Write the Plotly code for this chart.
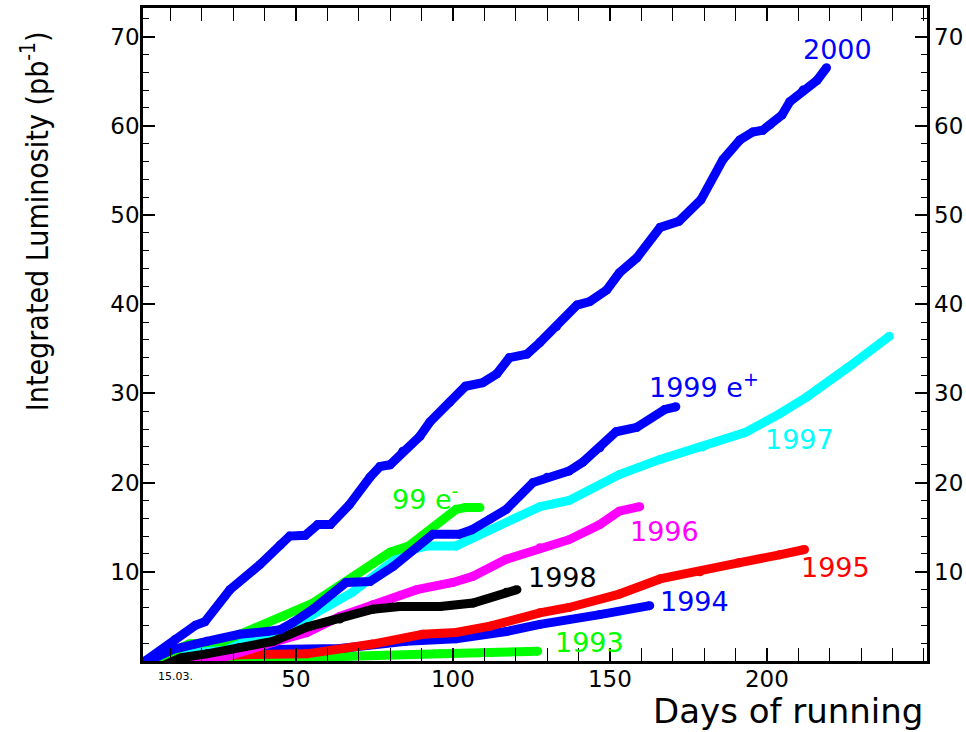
import plotly.graph_objects as go

# ---- data (days of running, integrated luminosity pb^-1) ----
x2000 = [2, 11.5, 18, 21, 29, 38.5, 45, 48, 53, 57, 61, 67, 73.6, 76.8, 80, 84, 89.5, 92.7, 99, 104, 109.5, 114,
         118, 123.6, 127.7, 133, 139.5, 143.6, 149, 153, 158.6, 166, 172, 179, 186, 191.4, 195.5, 198.7, 201,
         204.8, 207.3, 211.5, 216, 219]
y2000 = [0, 2.4, 4.0, 4.4, 8.0, 10.8, 13.0, 14.0, 14.1, 15.3, 15.3, 17.5, 20.6, 21.8, 22.0, 23.5, 25.2, 26.8, 29.0,
         30.8, 31.2, 32.2, 34.0, 34.4, 35.7, 37.5, 39.9, 40.3, 41.6, 43.5, 45.2, 48.6, 49.3, 51.7, 56.2, 58.4,
         59.3, 59.5, 60.1, 61.2, 62.7, 64.0, 65.1, 66.5]

x1999p = [3, 10.8, 21.6, 32, 40.8, 45, 49, 55.4, 66, 73.6, 81, 93.6, 102, 106, 111.8, 117, 125.5, 130, 137, 141.4,
          146.8, 152, 158.6, 167.5, 171]
y1999p = [0, 1.3, 2.2, 3.0, 3.3, 3.5, 4.3, 5.8, 8.8, 8.9, 10.6, 14.2, 14.2, 14.7, 15.9, 17.0, 20.0, 20.6, 21.3, 22.3,
          23.9, 25.7, 26.2, 28.2, 28.5]

x1999m = [4, 10, 16, 27, 32, 46, 55.4, 68, 80, 86, 101, 104, 108.6]
y1999m = [0, 1.0, 1.9, 2.2, 3.0, 5.0, 6.5, 9.4, 12.2, 12.9, 17.0, 17.2, 17.2]

x1997 = [5, 20, 35, 48, 55.4, 68, 85, 91.7, 101, 111.8, 127.7, 137, 153, 166, 179.6, 193, 204, 212.7, 225.8, 239]
y1997 = [0, 1.2, 2.5, 3.5, 5.2, 7.7, 12.3, 12.9, 12.9, 14.7, 17.3, 18.0, 20.9, 22.6, 24.0, 25.6, 27.7, 29.6, 32.9, 36.4]

x1996 = [15, 25, 42.7, 53.5, 64, 74.5, 88.5, 100, 106.4, 117, 127.7, 137, 146.8, 153, 159.5]
y1996 = [0, 0.2, 2.1, 3.2, 5.0, 6.3, 8.0, 8.8, 9.5, 11.4, 12.7, 13.6, 15.3, 16.8, 17.3]

x1998 = [2, 10, 21.6, 32, 42.7, 53.5, 64, 74.5, 83, 96, 106.4, 117, 120.4]
y1998 = [0, 0.2, 0.8, 1.5, 2.2, 3.8, 4.7, 5.8, 6.1, 6.1, 6.5, 7.7, 8.0]

x1995 = [10, 16, 32, 53.5, 74.5, 90.4, 101, 111.8, 127.7, 137, 153, 166, 178.7, 191, 204, 212]
y1995 = [0, 0.2, 0.7, 0.8, 1.9, 3.0, 3.2, 3.9, 5.4, 6.0, 7.5, 9.2, 10.0, 11.0, 11.9, 12.5]

x1994 = [10, 21.6, 42.7, 64, 85, 101, 117, 127.7, 146.8, 162.7]
y1994 = [0, 0.3, 1.3, 1.4, 2.2, 2.5, 3.3, 4.1, 5.2, 6.2]

x1993 = [20, 40, 64, 96, 127]
y1993 = [0, 0.3, 0.5, 0.8, 1.1]

series = [
    ("1993", x1993, y1993, "#00ff00"),
    ("1994", x1994, y1994, "#0000ff"),
    ("1995", x1995, y1995, "#ff0000"),
    ("1996", x1996, y1996, "#ff00ff"),
    ("1997", x1997, y1997, "#00ffff"),
    ("1998", x1998, y1998, "#000000"),
    ("99 e-", x1999m, y1999m, "#00ff00"),
    ("1999 e+", x1999p, y1999p, "#0000ff"),
    ("2000", x2000, y2000, "#0000ff"),
]

# labels: text, x, y, colour
labels = [
    ("2000", 222.6, 68.5, "#0000ff"),
    ("1999 e<sup>+</sup>", 180, 30.9, "#0000ff"),
    ("1997", 210.5, 24.8, "#00ffff"),
    ("1996", 167.5, 14.5, "#ff00ff"),
    ("1995", 221.7, 10.5, "#ff0000"),
    ("1994", 177, 6.7, "#0000ff"),
    ("1993", 143.6, 2.1, "#00ff00"),
    ("1998", 135, 9.4, "#000000"),
    ("99 e<sup>-</sup>", 91, 18.3, "#00ff00"),
]

x_ticks = [50, 100, 150, 200]
y_ticks = [10, 20, 30, 40, 50, 60, 70]
x_range = [1.3, 251]
y_range = [0, 73.2]

FONT = "DejaVu Sans, Liberation Sans, Arial, sans-serif"
NARROW = "DejaVu Sans Condensed, Liberation Sans Narrow, Arial Narrow, sans-serif"

fig = go.Figure()
for name, xs, ys, col in series:
    fig.add_trace(go.Scatter(x=xs, y=ys, mode="lines+markers", name=name,
                             line=dict(color=col, width=9),
                             marker=dict(color=col, size=9),
                             showlegend=False, hoverinfo="skip"))
# dummy trace so the right-hand axis labels are drawn
fig.add_trace(go.Scatter(x=[None], y=[None], yaxis="y2", showlegend=False, hoverinfo="skip"))

for text, lx, ly, col in labels:
    fig.add_annotation(x=lx, y=ly, text=text, showarrow=False,
                       font=dict(family=FONT, size=27, color=col),
                       xanchor="center", yanchor="middle")

fig.add_annotation(xref="paper", yref="paper", x=-0.137, y=0.967,
                   text="Integrated Luminosity (pb<sup>-1</sup>)", textangle=-90,
                   showarrow=False, xanchor="center", yanchor="top",
                   font=dict(family=NARROW, size=30, color="black"))
fig.add_annotation(xref="paper", yref="paper", x=0.998, y=-0.077,
                   text="Days of running", showarrow=False, xanchor="right", yanchor="middle",
                   font=dict(family=FONT, size=34, color="black"))
fig.add_annotation(xref="x", yref="paper", x=11.5, y=-0.024,
                   text="15.03.", showarrow=False, xanchor="center", yanchor="middle",
                   font=dict(family=FONT, size=11, color="black"))

fig.update_layout(
    width=966, height=732,
    margin=dict(l=143, r=39, t=8, b=71, autoexpand=False),
    paper_bgcolor="white", plot_bgcolor="white",
    font=dict(family=FONT, size=23, color="black"),
    xaxis=dict(range=x_range, tickvals=x_ticks, ticks="inside", ticklen=13, tickwidth=1.5,
               tickcolor="black", showline=True, linecolor="black", linewidth=2.5,
               mirror="allticks", showgrid=False, zeroline=False,
               ticklabelstandoff=-4,
               minor=dict(dtick=10, tick0=0, ticks="inside", ticklen=7, tickcolor="black", tickwidth=1.2)),
    yaxis=dict(range=y_range, tickvals=y_ticks, ticks="inside", ticklen=12, tickwidth=1.5,
               tickcolor="black", showline=True, linecolor="black", linewidth=2.5,
               mirror="allticks", showgrid=False, zeroline=False, ticklabelstandoff=-4,
               minor=dict(dtick=2, tick0=0, ticks="inside", ticklen=6, tickcolor="black", tickwidth=1.2)),
    yaxis2=dict(range=y_range, tickvals=y_ticks, overlaying="y", side="right", anchor="x",
                ticks="", showline=False, showgrid=False, zeroline=False, ticklabelstandoff=6),
)

fig.write_html("out.html", config={"displayModeBar": False},
               post_script="document.body.style.margin='0px';")
